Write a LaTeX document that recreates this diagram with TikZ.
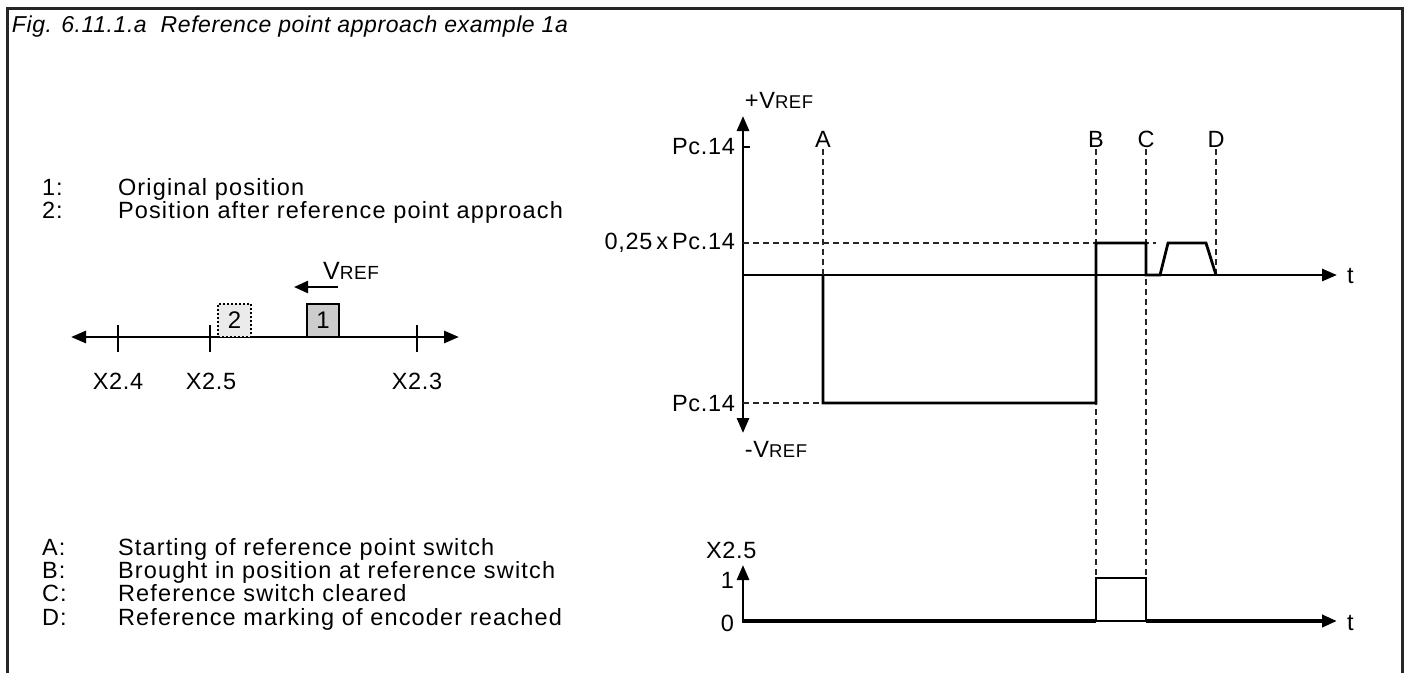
\documentclass[tikz,border=0pt]{standalone}
\usepackage{fontspec}
\setmainfont{Liberation Sans}
\newfontfamily\legfont[LetterSpace=5]{Liberation Sans}
\newfontfamily\lblfont[LetterSpace=3]{Liberation Sans}
\newfontfamily\titfont[LetterSpace=2.5]{Liberation Sans}
\usetikzlibrary{arrows.meta}
\begin{document}
\begin{tikzpicture}[x=1pt,y=-1pt,
  every node/.style={inner sep=0pt,outer sep=0pt},
  lbl/.style={font=\lblfont\fontsize{23.5}{24}\selectfont},
  leg/.style={font=\legfont\fontsize{23.5}{24}\selectfont,anchor=base west},
  ax/.style={line width=2.8pt,-{Triangle[length=15pt,width=12pt]}},
  sig/.style={line width=2.8pt,line join=miter},
  dsh/.style={line width=1.1pt,draw=black!85,dash pattern=on 6pt off 4pt},
  frame/.style={line width=3pt,draw=black!85}]
\useasboundingbox (0,0) rectangle (1411,673);
% frame
\draw[frame] (7,673) -- (7,8) -- (1402,8) -- (1402,673);
\node[anchor=base west,font=\titfont\fontsize{23}{24}\selectfont\itshape] (title) at (12,32) {Fig. 6.11.1.a\ \ Reference point approach example 1a};
% legend top
\node[leg] (l1n) at (42,195) {1:};
\node[leg] (l1t) at (118,195) {Original position};
\node[leg] (l2n) at (42,218) {2:};
\node[leg] (l2t) at (118,218) {Position after reference point approach};
% legend bottom
\node[leg] (lan) at (42,555) {A:};
\node[leg] (lat) at (118,555) {Starting of reference point switch};
\node[leg] (lbn) at (42,578) {B:};
\node[leg] (lbt) at (118,578) {Brought in position at reference switch};
\node[leg] (lcn) at (42,601) {C:};
\node[leg] (lct) at (118,601) {Reference switch cleared};
\node[leg] (ldn) at (42,625) {D:};
\node[leg] (ldt) at (118,625) {Reference marking of encoder reached};
% left diagram
\coordinate (axl) at (71,337);
\coordinate (axr) at (459,337);
\draw[line width=2.8pt,{Triangle[length=15pt,width=12pt]}-{Triangle[length=15pt,width=12pt]}] (axl) -- (axr);
\foreach \x in {118,210,417}{
  \draw[line width=2.8pt] (\x,325) -- (\x,352);
}
\node[lbl] (tx24) at (118,381) {X2.4};
\node[lbl] (tx25) at (211,381) {X2.5};
\node[lbl] (tx23) at (417,381) {X2.3};
\node[draw,line width=2pt,dotted,fill=black!8,minimum width=33pt,minimum height=33pt,anchor=south west,font=\lblfont\fontsize{24}{24}\selectfont] (b2) at (218,337) {2};
\node[draw,line width=2.2pt,fill=black!20,minimum width=32pt,minimum height=33pt,anchor=south west,font=\lblfont\fontsize{24}{24}\selectfont] (b1) at (307,337) {1};
\coordinate (va) at (338,287);
\coordinate (vb) at (294,287);
\draw[line width=2.4pt,-{Triangle[length=14pt,width=12pt]}] (va) -- (vb);
\node[anchor=base,font=\lblfont\fontsize{25}{24}\selectfont] (vref) at (351,279) {V{\fontsize{19}{18}\selectfont REF}};
% right upper chart
\coordinate (o) at (743,275);
\coordinate (yt) at (743,116);
\coordinate (yb) at (743,433);
\coordinate (xt) at (1337,275);
\draw[ax] (o) -- (yt);
\draw[ax] (o) -- (yb);
\draw[ax] (o) -- (xt);
\node[lbl,anchor=base] (pv) at (779,108) {+V{\fontsize{18.5}{18}\selectfont REF}};
\node[lbl,anchor=base] (mv) at (776,457) {-V{\fontsize{18.5}{18}\selectfont REF}};
\node[lbl,anchor=east] (pc1) at (735,147) {Pc.14};
\node[lbl,anchor=east] (pc25) at (735,243) {0,25\,x\,Pc.14};
\node[lbl,anchor=east] (pc2) at (735,404) {Pc.14};
\node[lbl,anchor=west] (tt) at (1347,276) {t};
\draw[line width=1.5pt] (743,147) -- (750,147);
\node[lbl,anchor=base] (la) at (823,147) {A};
\node[lbl,anchor=base] (lb) at (1096,147) {B};
\node[lbl,anchor=base] (lc) at (1146,147) {C};
\node[lbl,anchor=base] (ld) at (1216,147) {D};
\draw[dsh] (823,149) -- (823,275);
\draw[dsh] (1096,149) -- (1096,578);
\draw[dsh] (1146,149) -- (1146,578);
\draw[dsh] (1216,149) -- (1216,275);
\draw[dsh] (743,243) -- (1156,243);
\draw[dsh] (743,403) -- (823,403);
\draw[sig] (823,275) -- (823,403) -- (1096,403) -- (1096,243) -- (1146,243) -- (1146,275) -- (1160,275) -- (1168,243) -- (1206,243) -- (1216,275);
% lower chart
\coordinate (o2) at (743,621);
\coordinate (y2) at (743,565);
\coordinate (x2) at (1337,621);
\draw[ax] (o2) -- (y2);
\draw[line width=1.5pt] (1096,621) -- (1146,621);
\draw[line width=4.4pt] (741.6,621) -- (1096,621);
\draw[line width=4.4pt,-{Triangle[length=15pt,width=12pt]}] (1146,621) -- (x2);
\draw[sig,line width=2.6pt] (1096,621) -- (1096,578) -- (1146,578) -- (1146,621);
\node[lbl,anchor=base west] (x25) at (706,558) {X2.5};
\node[lbl,anchor=east] (one) at (734,580) {1};
\node[lbl,anchor=east] (zero) at (734,623) {0};
\node[lbl,anchor=west] (t2) at (1347,623) {t};
\end{tikzpicture}
\end{document}
